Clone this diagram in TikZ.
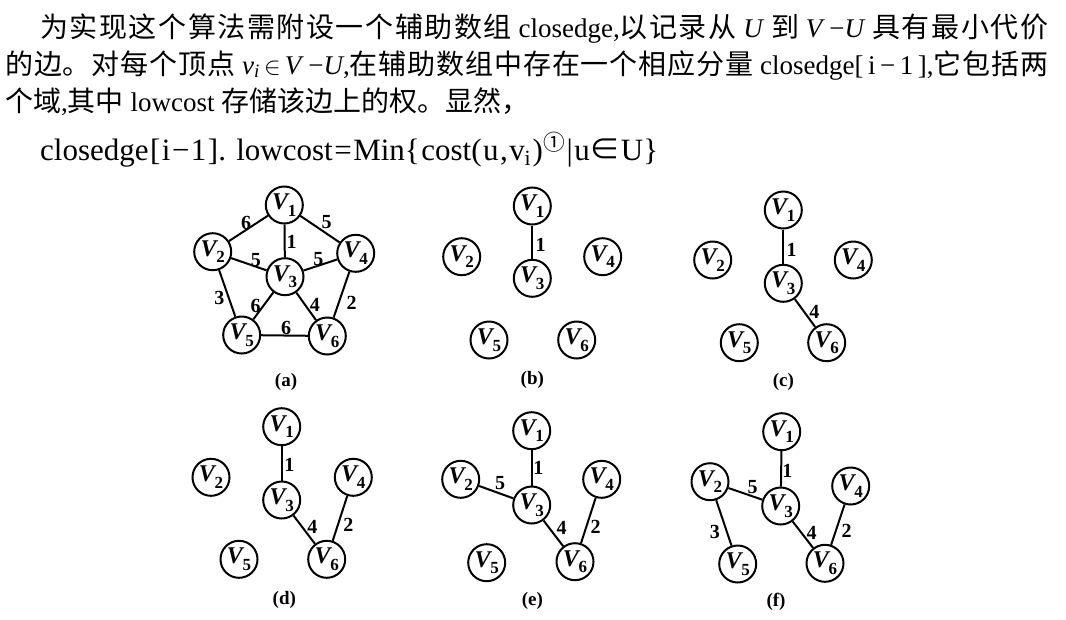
\documentclass[tikz,border=0pt]{standalone}
\usepackage{fontspec}
\setmainfont{Liberation Serif}
\newfontfamily\cjk{Noto Sans CJK SC}
\newXeTeXintercharclass\cjkcls
\makeatletter
\count@="3000
\loop
  \XeTeXcharclass\count@=\cjkcls
  \advance\count@ by 1
\ifnum\count@<"A000 \repeat
\XeTeXcharclass"FF0C=\cjkcls
\makeatother
\XeTeXinterchartokenstate=1
\def\cjkglue{\hskip 0pt plus 1fil\relax}
\XeTeXinterchartoks\cjkcls\cjkcls={\cjkglue}
\newcommand\zh[1]{{\cjk\fontsize{28pt}{37pt}\selectfont #1}}
\newcommand\gs{\hskip 1pt plus 1fil\relax}
\newcommand\vlab[1]{\textit{V}\kern-2pt\raisebox{-0.28em}{\fontsize{17pt}{17pt}\selectfont #1}}
\tikzset{
  vtx/.style={circle, draw, line width=2pt, minimum size=37pt, inner sep=0pt, font=\fontsize{24pt}{24pt}\selectfont\bfseries},
  edg/.style={line width=2pt},
  lbl/.style={inner sep=0pt, font=\fontsize{20pt}{20pt}\selectfont\bfseries},
  captxt/.style={inner sep=0pt, font=\fontsize{19pt}{19pt}\selectfont\bfseries},
  txt/.style={inner sep=0pt, anchor=base west, font=\fontsize{27pt}{37pt}\selectfont},
}
\begin{document}
\begin{tikzpicture}[x=1pt,y=-1pt]
\useasboundingbox (0,0) rectangle (1066,619);
% ---------- text ----------
\node[txt] (t1) at (40,37) {\hbox to 1008pt{\zh{为实现这个算法需附设一个辅助数组}\ closedge,\zh{以记录从}\ \textit{U}\ \zh{到}\ \textit{V}\,−\textit{U}\ \zh{具有最小代价}}};
\node[txt] (t2) at (5,74) {\hbox to 1043pt{\zh{的边。对每个顶点}\ \textit{v}\textsubscript{\textit{i}}$\,\in\,$\textit{V}\,−\textit{U},\zh{在辅助数组中存在一个相应分量}\ closedge[\,i\,−\,1\,],\zh{它包括两}}};
\node[txt] (t3) at (5,111) {\zh{个域},\zh{其中}\ lowcost\ \zh{存储该边上的权。显然，}};
\node[txt, font=\fontsize{31pt}{37pt}\selectfont] (t4) at (40,160) {\hbox to 618pt{closedge\gs[\gs i\gs −\gs 1\gs]. lowcost\gs=\gs Min\{\gs cost(\gs u\gs,\gs v\textsubscript{i}\gs)\textsuperscript{{\cjk ①}}\gs|\gs u{\cjk ∈}U\}}};
% ---------- (a) ----------
\node[vtx] (a1) at (284.3,205) {\vlab{1}};
\node[vtx] (a2) at (212.7,251.7) {\vlab{2}};
\node[vtx] (a3) at (285,276.7) {\vlab{3}};
\node[vtx] (a4) at (355.7,253.3) {\vlab{4}};
\node[vtx] (a5) at (241.7,335) {\vlab{5}};
\node[vtx] (a6) at (327.3,336) {\vlab{6}};
\draw[edg] (a1) -- node[lbl, shift={(-2.5,-5.7)}]{6} (a2);
\draw[edg] (a1) -- node[lbl, shift={(6.7,-7.5)}]{5} (a4);
\draw[edg] (a1) -- node[lbl, shift={(7,0.8)}]{1} (a3);
\draw[edg] (a2) -- node[lbl, shift={(7.1,-4.2)}]{5} (a3);
\draw[edg] (a3) -- node[lbl, shift={(-2.1,-5.7)}]{5} (a4);
\draw[edg] (a2) -- node[lbl, shift={(-7.9,4.9)}]{3} (a5);
\draw[edg] (a3) -- node[lbl, shift={(-7.7,0.1)}]{6} (a5);
\draw[edg] (a3) -- node[lbl, shift={(8.8,-1.4)}]{4} (a6);
\draw[edg] (a4) -- node[lbl, shift={(10.2,8.6)}]{2} (a6);
\draw[edg] (a5) -- node[lbl, shift={(1.5,-7.2)}]{6} (a6);
\node[captxt] (capa) at (286,381.7) {(a)};
% ---------- (b) ----------
\node[vtx] (b1) at (532.3,206) {\vlab{1}};
\node[vtx] (b2) at (461.7,256.7) {\vlab{2}};
\node[vtx] (b3) at (532.3,278.3) {\vlab{3}};
\node[vtx] (b4) at (602.7,256.7) {\vlab{4}};
\node[vtx] (b5) at (489,340) {\vlab{5}};
\node[vtx] (b6) at (576.7,340) {\vlab{6}};
\draw[edg] (b1) -- node[lbl, shift={(8.4,2.8)}]{1} (b3);
\node[captxt] (capb) at (532.3,380) {(b)};
% ---------- (c) ----------
\node[vtx] (c1) at (783.3,210) {\vlab{1}};
\node[vtx] (c2) at (712.7,260) {\vlab{2}};
\node[vtx] (c3) at (783.3,283.3) {\vlab{3}};
\node[vtx] (c4) at (853.3,260) {\vlab{4}};
\node[vtx] (c5) at (739.3,342.7) {\vlab{5}};
\node[vtx] (c6) at (826.7,342.7) {\vlab{6}};
\draw[edg] (c1) -- node[lbl, shift={(8.4,3.3)}]{1} (c3);
\draw[edg] (c3) -- node[lbl, shift={(9.3,-1.3)}]{4} (c6);
\node[captxt] (capc) at (783.3,381.7) {(c)};
% ---------- (d) ----------
\node[vtx] (d1) at (281.7,426.7) {\vlab{1}};
\node[vtx] (d2) at (211,477.3) {\vlab{2}};
\node[vtx] (d3) at (281.7,500) {\vlab{3}};
\node[vtx] (d4) at (353.3,477.3) {\vlab{4}};
\node[vtx] (d5) at (239,559.3) {\vlab{5}};
\node[vtx] (d6) at (326.7,559.3) {\vlab{6}};
\draw[edg] (d1) -- node[lbl, shift={(7.6,1.6)}]{1} (d3);
\draw[edg] (d3) -- node[lbl, shift={(8.1,-3)}]{4} (d6);
\draw[edg] (d4) -- node[lbl, shift={(8.3,6.7)}]{2} (d6);
\node[captxt] (capd) at (284.3,600) {(d)};
% ---------- (e) ----------
\node[vtx] (e1) at (531.7,430.7) {\vlab{1}};
\node[vtx] (e2) at (460.7,479.3) {\vlab{2}};
\node[vtx] (e3) at (531.7,505) {\vlab{3}};
\node[vtx] (e4) at (601.7,479.3) {\vlab{4}};
\node[vtx] (e5) at (486.7,562.7) {\vlab{5}};
\node[vtx] (e6) at (575,561.7) {\vlab{6}};
\draw[edg] (e1) -- node[lbl, shift={(6.6,0.4)}]{1} (e3);
\draw[edg] (e2) -- node[lbl, shift={(3.8,-8.9)}]{5} (e3);
\draw[edg] (e3) -- node[lbl, shift={(8.3,-5.1)}]{4} (e6);
\draw[edg] (e4) -- node[lbl, shift={(7.3,6.2)}]{2} (e6);
\node[captxt] (cape) at (532.3,600.7) {(e)};
% ---------- (f) ----------
\node[vtx] (f1) at (781.7,431.7) {\vlab{1}};
\node[vtx] (f2) at (710,481.7) {\vlab{2}};
\node[vtx] (f3) at (780.7,506) {\vlab{3}};
\node[vtx] (f4) at (850.7,486) {\vlab{4}};
\node[vtx] (f5) at (737.7,564) {\vlab{5}};
\node[vtx] (f6) at (825,563.3) {\vlab{6}};
\draw[edg] (f1) -- node[lbl, shift={(6.1,1.8)}]{1} (f3);
\draw[edg] (f2) -- node[lbl, shift={(7.3,-6.6)}]{5} (f3);
\draw[edg] (f2) -- node[lbl, shift={(-8.9,8.8)}]{3} (f5);
\draw[edg] (f3) -- node[lbl, shift={(8.8,-1.4)}]{4} (f6);
\draw[edg] (f4) -- node[lbl, shift={(8.8,6.3)}]{2} (f6);
\node[captxt] (capf) at (776,602.3) {(f)};
\end{tikzpicture}
\end{document}
